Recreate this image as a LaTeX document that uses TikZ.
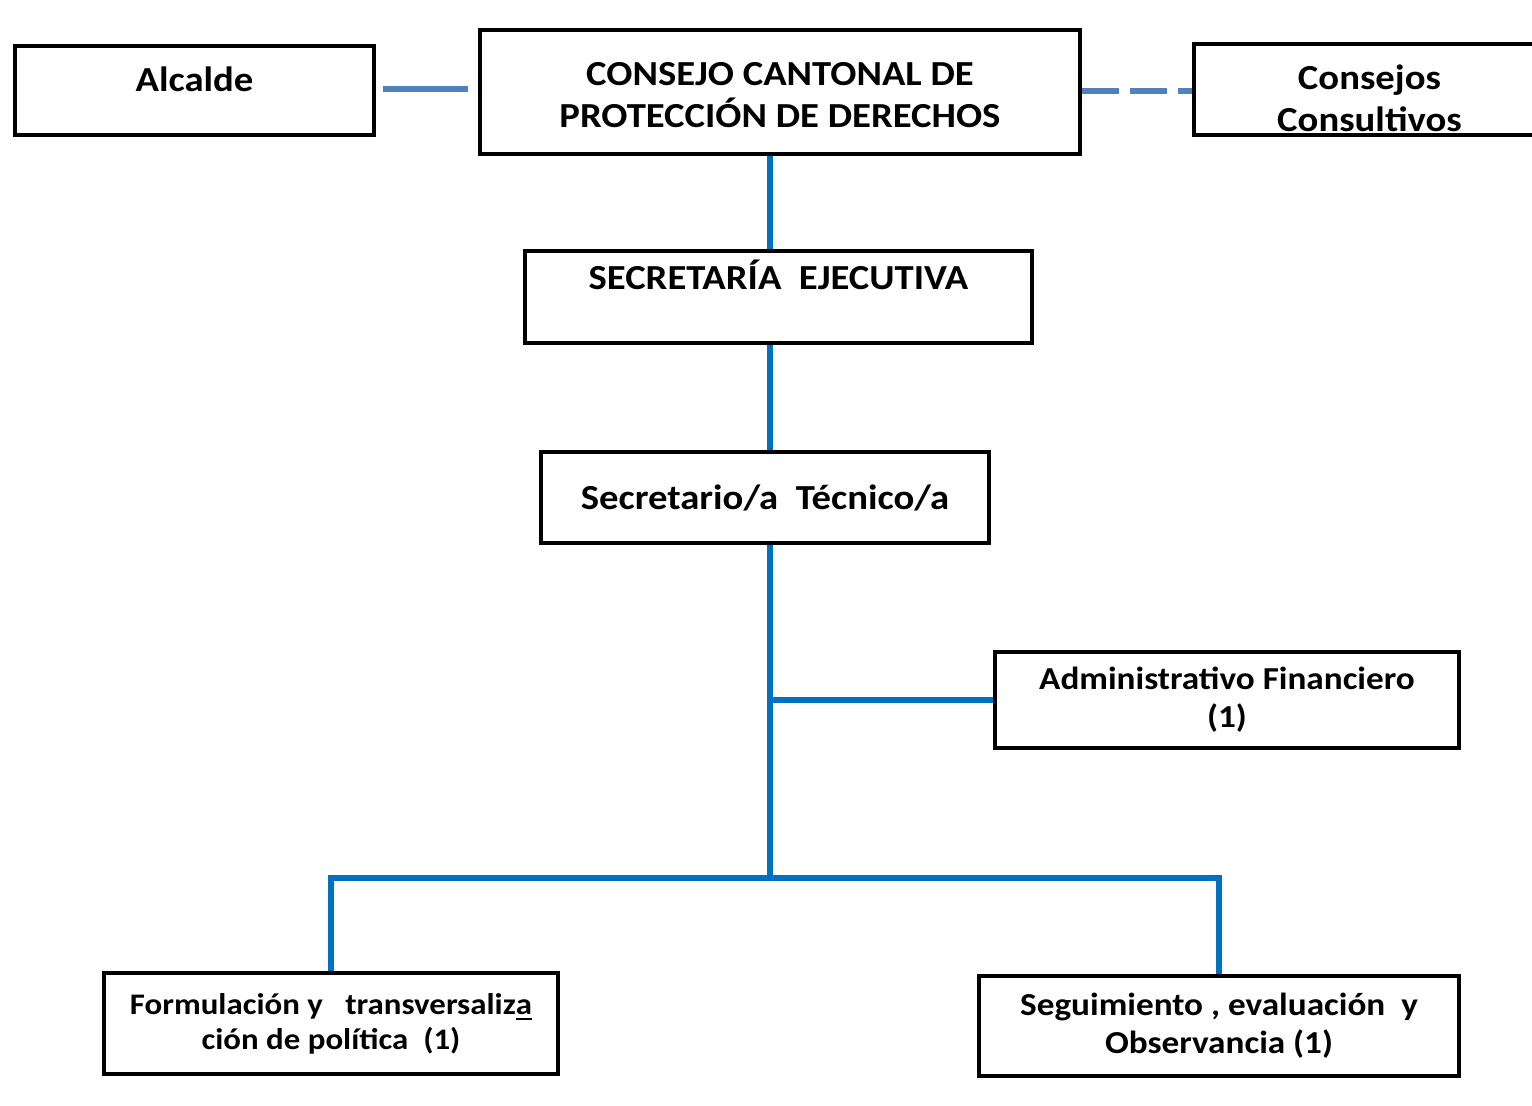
\documentclass[tikz,border=0pt]{standalone}
\usepackage{fontspec}
\setmainfont{Carlito}[FakeStretch=1.1]
\usepackage{tikz}

\definecolor{linkblue}{RGB}{0,112,192}
\definecolor{softblue}{RGB}{79,129,189}

\begin{document}
\begin{tikzpicture}[x=0.01cm,y=-0.01cm,
	box/.style={draw,line width=1pt,align=center,inner sep=0pt,font=\bfseries\fontsize{10}{12}\selectfont},
	small box/.style={box,font=\bfseries\fontsize{9.1}{10.8}\selectfont},
	link/.style={draw=linkblue,line width=1.5pt},
	side link/.style={draw=softblue,line width=1.7pt}]

			\useasboundingbox[fill=white] (0,0) rectangle (1532,1106);

			% upper level
			\node[box,minimum width=3.59cm,minimum height=0.89cm,text height=0.25cm,text depth=0.24cm] (alc) at (194.5,90.5) {Alcalde};
			\node[box,minimum width=6cm,minimum height=1.24cm,text height=0.72cm] (cons) at (780,92) {CONSEJO CANTONAL DE\\PROTECCIÓN DE DERECHOS};
			\node[box,minimum width=3.51cm,minimum height=0.91cm,text height=0.85cm] (consul) at (1369.5,89.5) {Consejos\\Consultivos};

			\node[box,minimum width=5.07cm,minimum height=0.92cm,text height=0.3cm,text depth=0.45cm] (secej) at (778.5,297) {SECRETARÍA~~EJECUTIVA};
			\node[box,minimum width=4.48cm,minimum height=0.91cm] (sectec) at (765,497.5) {Secretario/a~~Técnico/a};

			% lower level
			\node[small box,minimum width=4.64cm,minimum height=0.96cm] (admin) at (1227,700) {Administrativo Financiero\\(1)};
			\node[small box,minimum width=4.54cm,minimum height=1.01cm,font=\bfseries\fontsize{8.5}{10}\selectfont] (form) at (331,1023.5) {Formulación y~~~transversaliz\underline{a}\\ción de política~~(1)};
			\node[small box,minimum width=4.8cm,minimum height=1cm] (seg) at (1219,1026) {Seguimiento , evaluación~~y\\Observancia (1)};

			\coordinate (trunk) at (770,0);
			\coordinate (split) at (770,878);

			\draw[side link,shorten <=0.07cm,shorten >=0.1cm] (alc.east |- 0,89) -- (cons.west |- 0,89);
			\draw[side link,dash pattern=on 0.37cm off 0.11cm] (cons.east |- 0,91) -- (consul.west |- 0,91);

			\draw[link] (cons.south -| trunk) -- (secej.north -| trunk);
			\draw[link] (secej.south -| trunk) -- (sectec.north -| trunk);
			\draw[link] (sectec.south -| trunk) -- (split);
			\draw[link] (admin.west) -- (admin.west -| trunk);
			\draw[link] (form.north) |- (split) -| (seg.north);
\end{tikzpicture}
\end{document}
